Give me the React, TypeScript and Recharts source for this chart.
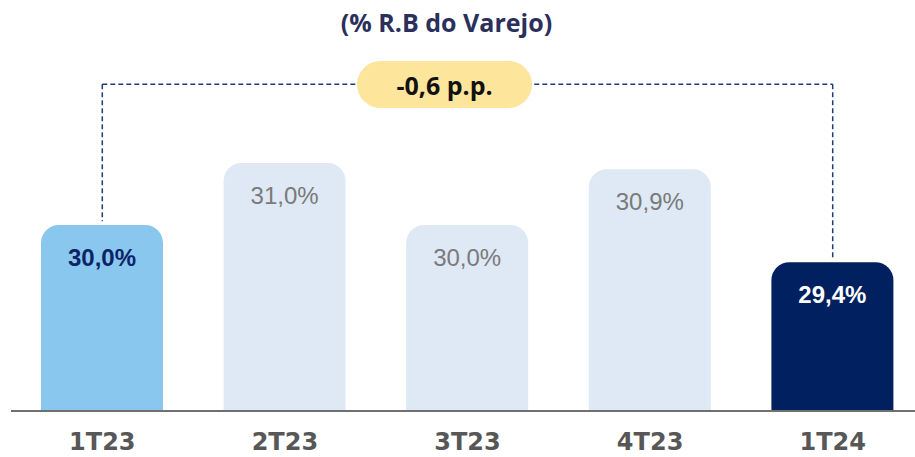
import { Bar, BarChart, Cell, LabelList, ReferenceLine, XAxis, YAxis } from 'recharts'

// Margem bruta do varejo por trimestre (% R.B)
const quarters = ['1T23', '2T23', '3T23', '4T23', '1T24']
const margins = [30.0, 31.0, 30.0, 30.9, 29.4]
const labels = ['30,0%', '31,0%', '30,0%', '30,9%', '29,4%']
const deltaText = '-0,6 p.p.'

const barFill = ['#89C7EE', '#DEE9F5', '#DEE9F5', '#DEE9F5', '#002060']
const labelFill = ['#0B2466', '#7A7A7A', '#7A7A7A', '#7A7A7A', '#FFFFFF']
const labelBold = [true, false, false, false, true]

const data = quarters.map((q, i) => ({ q, v: margins[i] }))

const bracketY = 32.27
const first = quarters[0]
const last = quarters[quarters.length - 1]

function BarLabel(props: any) {
  const { x, y, width, index } = props
  return (
    <text
      x={x + width / 2}
      y={y + 32}
      textAnchor="middle"
      dominantBaseline="central"
      fill={labelFill[index]}
      fontSize={24}
      fontWeight={labelBold[index] ? 700 : 400}
      fontFamily="'Liberation Sans', Arial, sans-serif"
    >
      {labels[index]}
    </text>
  )
}

function Tick(props: any) {
  const { x, y, payload } = props
  return (
    <text
      x={x}
      y={y + 23}
      textAnchor="middle"
      dominantBaseline="central"
      fill="#575757"
      fontSize={24}
      fontWeight={700}
      fontFamily="'DejaVu Sans', sans-serif"
    >
      {payload.value}
    </text>
  )
}

export default function App() {
  return (
    <div
      style={{
        position: 'absolute',
        left: 0,
        top: 0,
        width: 915,
        height: 457,
        overflow: 'hidden',
        background: '#fff',
      }}
    >
      <BarChart width={924} height={457} data={data} margin={{ top: 39, right: 0, left: 11, bottom: 0 }}>
        <YAxis hide domain={[27, 33]} allowDataOverflow />
        <XAxis
          dataKey="q"
          height={46}
          tickLine={false}
          axisLine={{ stroke: '#707070', strokeWidth: 2 }}
          tick={<Tick />}
          interval={0}
        />
        <Bar dataKey="v" barSize={122} radius={[18, 18, 0, 0]} isAnimationActive={false}>
          {data.map((d, i) => (
            <Cell key={d.q} fill={barFill[i]} />
          ))}
          <LabelList dataKey="v" content={<BarLabel />} />
        </Bar>
        <ReferenceLine
          segment={[{ x: first, y: bracketY }, { x: last, y: bracketY }]}
          stroke="#1F3C7A"
          strokeWidth={1.5}
          strokeDasharray="5 3"
        />
        <ReferenceLine
          segment={[{ x: first, y: bracketY }, { x: first, y: margins[0] + 0.06 }]}
          stroke="#1F3C7A"
          strokeWidth={1.5}
          strokeDasharray="5 3"
        />
        <ReferenceLine
          segment={[{ x: last, y: bracketY }, { x: last, y: margins[4] + 0.07 }]}
          stroke="#1F3C7A"
          strokeWidth={1.5}
          strokeDasharray="5 3"
        />
      </BarChart>
      <div
        style={{
          position: 'absolute',
          left: 0,
          width: 893,
          top: 4,
          textAlign: 'center',
          fontFamily: "'Open Sans', sans-serif",
          fontWeight: 700,
          fontSize: 25,
          lineHeight: '36px',
          color: '#2B2F5C',
        }}
      >
        (% R.B do Varejo)
      </div>
      <div
        style={{
          position: 'absolute',
          left: 357,
          top: 61,
          width: 175,
          height: 47,
          borderRadius: 24,
          background: '#FDE59B',
          display: 'flex',
          alignItems: 'center',
          justifyContent: 'center',
          fontFamily: "'Open Sans', sans-serif",
          fontWeight: 700,
          fontSize: 25,
          color: '#111',
        }}
      >
        {deltaText}
      </div>
    </div>
  )
}
